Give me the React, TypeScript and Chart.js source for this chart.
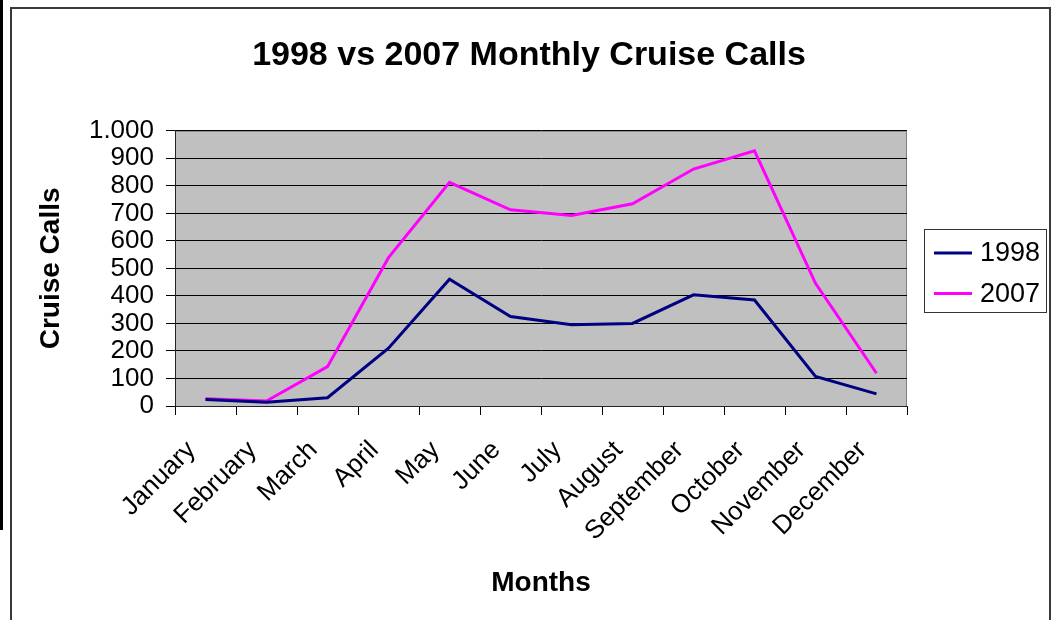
import React, { useEffect, useRef } from 'react';
import { Chart, registerables } from 'chart.js';

Chart.register(...registerables);

const months = ['January', 'February', 'March', 'April', 'May', 'June', 'July', 'August', 'September', 'October', 'November', 'December'];
const calls1998 = [24, 14, 30, 210, 461, 325, 295, 300, 404, 385, 107, 44];
const calls2007 = [26, 18, 143, 539, 813, 713, 692, 735, 861, 927, 446, 119];
const seriesNames = ['1998', '2007'];
const seriesColors = ['#000080', '#FF00FF'];
const chartTitle = '1998 vs 2007 Monthly Cruise Calls';
const xTitle = 'Months';
const yTitle = 'Cruise Calls';

const FONT = "'Liberation Sans', Arial, Helvetica, sans-serif";

const decorPlugin = {
  id: 'decor',
  beforeDraw(chart: any) {
    const { ctx, chartArea } = chart;
    ctx.save();
    ctx.fillStyle = '#ffffff';
    ctx.fillRect(0, 0, chart.width, chart.height);
    ctx.fillStyle = '#000000';
    ctx.fillRect(0, 0, 3, 530);
    ctx.strokeStyle = '#3a3a3a';
    ctx.lineWidth = 2;
    ctx.beginPath();
    ctx.moveTo(11, 630);
    ctx.lineTo(11, 8);
    ctx.lineTo(1050, 8);
    ctx.lineTo(1050, 630);
    ctx.stroke();
    ctx.fillStyle = '#C0C0C0';
    ctx.fillRect(chartArea.left, chartArea.top, chartArea.right - chartArea.left, chartArea.bottom - chartArea.top);
    ctx.strokeStyle = '#808080';
    ctx.lineWidth = 1;
    ctx.beginPath();
    ctx.moveTo(chartArea.left, chartArea.top + 0.5);
    ctx.lineTo(chartArea.right - 0.5, chartArea.top + 0.5);
    ctx.lineTo(chartArea.right - 0.5, chartArea.bottom);
    ctx.stroke();
    ctx.restore();
  },
  afterDraw(chart: any) {
    const { ctx } = chart;
    ctx.save();
    const bx = 924.5, by = 229.5, bw = 122, bh = 83;
    ctx.strokeStyle = '#333333';
    ctx.lineWidth = 1;
    ctx.strokeRect(bx, by, bw, bh);
    const rows = [253, 293.5];
    chart.data.datasets.forEach((ds: any, i: number) => {
      const y = rows[i];
      ctx.strokeStyle = ds.borderColor;
      ctx.lineWidth = 3;
      ctx.beginPath();
      ctx.moveTo(934, y);
      ctx.lineTo(972, y);
      ctx.stroke();
      ctx.fillStyle = '#000';
      ctx.font = `27px ${FONT}`;
      ctx.textAlign = 'left';
      ctx.textBaseline = 'middle';
      ctx.fillText(ds.label, 980, y + 1);
    });
    ctx.restore();
  },
};

export default function App() {
  const ref = useRef<HTMLCanvasElement>(null);
  useEffect(() => {
    if (!ref.current) return;
    const chart = new Chart(ref.current, {
      type: 'line',
      data: {
        labels: months,
        datasets: [
          { label: seriesNames[0], data: calls1998, borderColor: seriesColors[0], backgroundColor: seriesColors[0], borderWidth: 3, pointRadius: 0, tension: 0 },
          { label: seriesNames[1], data: calls2007, borderColor: seriesColors[1], backgroundColor: seriesColors[1], borderWidth: 3, pointRadius: 0, tension: 0 },
        ],
      },
      options: {
        responsive: false,
        animation: false,
        layout: { padding: { left: 0, right: 0, top: 0, bottom: 0 } },
        plugins: {
          legend: { display: false },
          tooltip: { enabled: false },
          title: {
            display: true,
            text: chartTitle,
            color: '#000',
            font: { family: FONT, size: 34, weight: 'bold' },
            padding: { top: 35, bottom: 55 },
          },
        },
        scales: {
          x: {
            offset: true,
            grid: { offset: true, drawOnChartArea: false, drawTicks: true, tickLength: 9, color: '#000', tickColor: '#000' },
            border: { display: true, color: '#222', width: 1 },
            ticks: { color: '#000', font: { family: FONT, size: 26 }, minRotation: 45, maxRotation: 45, autoSkip: false, padding: 20, labelOffset: -14 },
            title: { display: true, text: xTitle, color: '#000', font: { family: FONT, size: 28, weight: 'bold' }, padding: { top: 0, bottom: 20 } },
            afterFit(scale: any) { scale.height = 214; },
          },
          y: {
            min: 0,
            max: 1000,
            grid: { color: '#000', tickColor: '#000', tickLength: 9, drawTicks: true },
            border: { display: true, color: '#222', width: 1 },
            ticks: {
              stepSize: 100,
              autoSkip: false,
              color: '#000',
              font: { family: FONT, size: 26 },
              padding: 12,
              callback: (v: any) => Number(v).toLocaleString('de-DE'),
            },
            title: { display: true, text: yTitle, color: '#000', font: { family: FONT, size: 28, weight: 'bold' }, padding: { top: 34, bottom: 0 } },
            afterFit(scale: any) { scale.width = 175; },
          },
          legendSpace: {
            axis: 'y',
            position: 'right',
            display: true,
            min: 0,
            max: 1000,
            grid: { drawOnChartArea: false, drawTicks: false },
            border: { display: false },
            ticks: { display: false },
            afterFit(scale: any) { scale.width = 151; },
          },
        },
      } as any,
      plugins: [decorPlugin],
    });
    return () => chart.destroy();
  }, []);
  return (
    <div style={{ position: 'fixed', left: 0, top: 0, width: 1058, height: 620, background: '#fff' }}>
      <canvas ref={ref} width={1058} height={620} style={{ display: 'block' }} />
    </div>
  );
}
